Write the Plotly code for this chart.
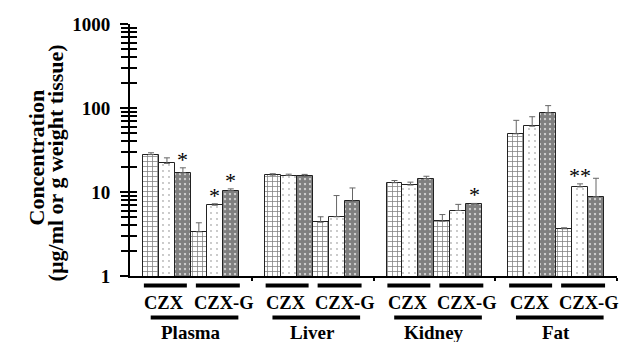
import numpy as np
import plotly.graph_objects as go

tissues = ["Plasma", "Liver", "Kidney", "Fat"]
drugs = ["CZX", "CZX-G"]

# Mean concentration and SD for each tissue, three groups per drug
czx_a_mean = [27.9, 15.9, 12.9, 49.3]
czx_a_err = [1.4, 0.6, 0.8, 22.0]
czx_b_mean = [21.9, 15.7, 12.1, 60.7]
czx_b_err = [3.6, 0.6, 1.0, 18.0]
czx_c_mean = [16.9, 15.4, 14.4, 87.7]
czx_c_err = [2.5, 0.8, 1.0, 19.0]

czxg_a_mean = [3.36, 4.37, 4.49, 3.65]
czxg_a_err = [0.94, 0.7, 0.9, 0.1]
czxg_b_mean = [6.96, 5.07, 6.02, 11.5]
czxg_b_err = [0.28, 4.0, 1.1, 1.0]
czxg_c_mean = [10.4, 7.77, 7.16, 8.77]
czxg_c_err = [0.5, 3.4, 0.15, 5.8]

# significance marks drawn above bars
czx_c_sig = ["*", "", "", ""]
czxg_b_sig = ["*", "", "", "**"]
czxg_c_sig = ["*", "", "*", ""]

ytick_vals = [1, 10, 100, 1000]

FONT = "Liberation Serif"
BAR_W = 0.131

patterns = {
    "a": dict(shape="+", fgcolor="black", bgcolor="white", size=5, solidity=0.28),
    "b": dict(shape=".", fgcolor="#666666", bgcolor="white", size=6, solidity=0.07),
    "c": dict(shape=".", fgcolor="black", bgcolor="white", size=5, solidity=0.82),
}

series = [
    ("a", czx_a_mean, czx_a_err, None),
    ("b", czx_b_mean, czx_b_err, None),
    ("c", czx_c_mean, czx_c_err, czx_c_sig),
    ("a", czxg_a_mean, czxg_a_err, None),
    ("b", czxg_b_mean, czxg_b_err, czxg_b_sig),
    ("c", czxg_c_mean, czxg_c_err, czxg_c_sig),
]

cat_x = np.arange(len(tissues))
fig = go.Figure()
annotations = []

for k, (pat, mean, err, sig) in enumerate(series):
    xs = cat_x + (k - 2.5) * BAR_W
    fig.add_trace(go.Bar(
        x=xs, y=mean, width=BAR_W,
        marker=dict(color="white", line=dict(color="#222222", width=1),
                    pattern=patterns[pat]),
        error_y=dict(type="data", array=err, arrayminus=[0] * len(err),
                     symmetric=False, color="#666666", thickness=1, width=3),
        showlegend=False,
    ))
    if sig:
        for xi, m, e, s in zip(xs, mean, err, sig):
            if s:
                annotations.append(dict(
                    x=xi, y=np.log10(m + e), xref="x", yref="y",
                    text=s, showarrow=False, yanchor="bottom", yshift=-6,
                    font=dict(family=FONT, size=22, color="black"),
                ))

shapes = []
# drug labels with bars above, tissue labels with bar above
czx_span = (-0.386, -0.033)
czxg_span = (0.041, 0.402)
tissue_span = (-0.33, 0.39)
drug_label_x = (-0.218, 0.268)
for i, t in enumerate(tissues):
    for span, lx, name in ((czx_span, drug_label_x[0], drugs[0]),
                           (czxg_span, drug_label_x[1], drugs[1])):
        shapes.append(dict(type="line", xref="x", yref="paper",
                           x0=i + span[0], x1=i + span[1], y0=-0.0375, y1=-0.0375,
                           line=dict(color="black", width=4)))
        annotations.append(dict(x=i + lx, y=-0.106,
                                xref="x", yref="paper", text=f"<b>{name}</b>",
                                showarrow=False, yanchor="middle",
                                font=dict(family=FONT, size=18.5, color="black")))
    shapes.append(dict(type="line", xref="x", yref="paper",
                       x0=i + tissue_span[0], x1=i + tissue_span[1],
                       y0=-0.165, y1=-0.165, line=dict(color="black", width=4)))
    annotations.append(dict(x=i + 0.0, y=-0.2245, xref="x", yref="paper",
                            text=f"<b>{t}</b>", showarrow=False, yanchor="middle",
                            font=dict(family=FONT, size=19, color="black")))

# two-line rotated axis title, positions given in pixels
title_lines = [("<b>Concentration</b>", 36.5, 158),
               ("<b>(\u00b5g/ml or g weight tissue)</b>", 55.5, 163)]
for text, px, py in title_lines:
    annotations.append(dict(
        x=(px - 130) / 487, y=(276.5 - py) / 253, xref="paper", yref="paper",
        textangle=-90, text=text, showarrow=False,
        xanchor="center", yanchor="middle",
        font=dict(family=FONT, size=22, color="black"),
    ))

fig.update_layout(
    width=622, height=342,
    margin=dict(l=130, r=5, t=23.5, b=65.5),
    paper_bgcolor="white", plot_bgcolor="white",
    bargap=0, barmode="overlay",
    annotations=annotations, shapes=shapes,
    xaxis=dict(range=[-0.5, 3.5], showgrid=False, zeroline=False,
               showline=True, linecolor="black", linewidth=2,
               tickvals=[0.5, 1.5, 2.5, 3.5], ticktext=["", "", "", ""],
               ticks="outside", ticklen=3, tickwidth=1.5, tickcolor="black"),
    yaxis=dict(type="log", range=[0, 3], showgrid=False, zeroline=False,
               showline=True, linecolor="black", linewidth=2,
               tickvals=ytick_vals, ticktext=[str(v) for v in ytick_vals],
               ticks="outside", ticklen=8, tickwidth=2, tickcolor="black",
               tickfont=dict(family=FONT, size=19, color="black", weight="bold"),
               minor=dict(ticks="outside", ticklen=7, tickwidth=1.5,
                          tickcolor="black", dtick="D1"),
               ticklabelstandoff=6),
    yaxis2=dict(type="log", range=[0, 3], overlaying="y", side="left",
                showgrid=False, zeroline=False, showline=False,
                tickvals=ytick_vals, ticktext=["", "", "", ""],
                ticks="inside", ticklen=7, tickwidth=2, tickcolor="black",
                minor=dict(ticks="inside", ticklen=7, tickwidth=1.5,
                           tickcolor="black", dtick="D1")),
)
# invisible trace to activate the mirrored tick axis
fig.add_trace(go.Scatter(x=[0], y=[1], yaxis="y2", mode="markers",
                         marker=dict(opacity=0), showlegend=False, hoverinfo="skip"))

fig.write_html("out.html")
